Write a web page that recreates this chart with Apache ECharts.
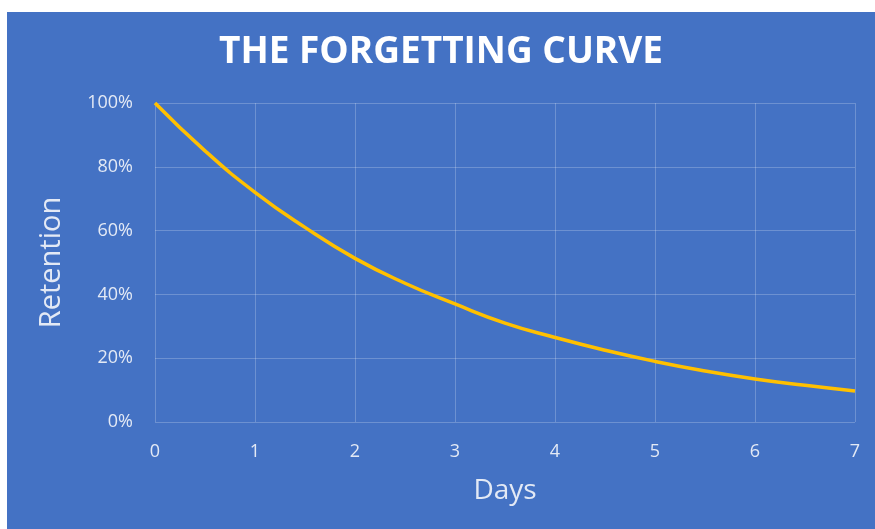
<!DOCTYPE html>
<html>
<head>
<meta charset="utf-8">
<title>The Forgetting Curve</title>
<script src="https://cdn.jsdelivr.net/npm/echarts@6/dist/echarts.min.js"></script>
<style>
  html, body { margin: 0; padding: 0; background: #ffffff; }
  #chart { position: absolute; left: 7px; top: 12px; width: 868px; height: 517px; }
</style>
</head>
<body>
<div id="chart"></div>
<script>
// days since learning, and retention (%)
const days = [0, 0.5, 1, 1.5, 2, 2.5, 3, 3.5, 4, 4.5, 5, 5.5, 6, 6.5, 7];
const retention = [100, 85, 72, 61, 51.3, 43.5, 37, 31, 26.5, 22.5, 19, 16, 13.5, 11.5, 9.7];

const labelColor = "#e3e9f5";
const font = "'Open Sans', sans-serif";

let chart = echarts.init(document.getElementById("chart"));
chart.setOption({
  backgroundColor: "#4472c4",
  animation: false,
  title: {
    text: "THE FORGETTING CURVE",
    left: "center",
    top: 17,
    textStyle: {
      color: "#ffffff",
      fontFamily: font,
      fontWeight: "bold",
      fontSize: 37
    }
  },
  grid: {
    left: 148,
    right: 20,
    top: 91,
    bottom: 107
  },
  xAxis: {
    type: "value",
    min: 0,
    max: 7,
    interval: 1,
    name: "Days",
    nameLocation: "middle",
    nameGap: 55,
    nameTextStyle: { color: labelColor, fontFamily: font, fontSize: 28 },
    axisLine: { show: false },
    axisTick: { show: false },
    axisLabel: { color: labelColor, fontFamily: font, fontSize: 18, margin: 21 },
    splitLine: { show: true, lineStyle: { color: "rgba(255,255,255,0.22)", width: 1 } }
  },
  yAxis: {
    type: "value",
    min: 0,
    max: 100,
    interval: 20,
    name: "Retention",
    nameLocation: "middle",
    nameGap: 89,
    nameTextStyle: { color: labelColor, fontFamily: font, fontSize: 29 },
    axisLine: { show: false },
    axisTick: { show: false },
    axisLabel: { color: labelColor, fontFamily: font, fontSize: 18, margin: 22, formatter: "{value}%" },
    splitLine: { show: true, lineStyle: { color: "rgba(255,255,255,0.22)", width: 1 } }
  },
  series: [
    {
      type: "line",
      data: days.map((d, i) => [d, retention[i]]),
      smooth: true,
      showSymbol: false,
      lineStyle: { color: "#ffc000", width: 3.5 }
    }
  ]
});
</script>
</body>
</html>
